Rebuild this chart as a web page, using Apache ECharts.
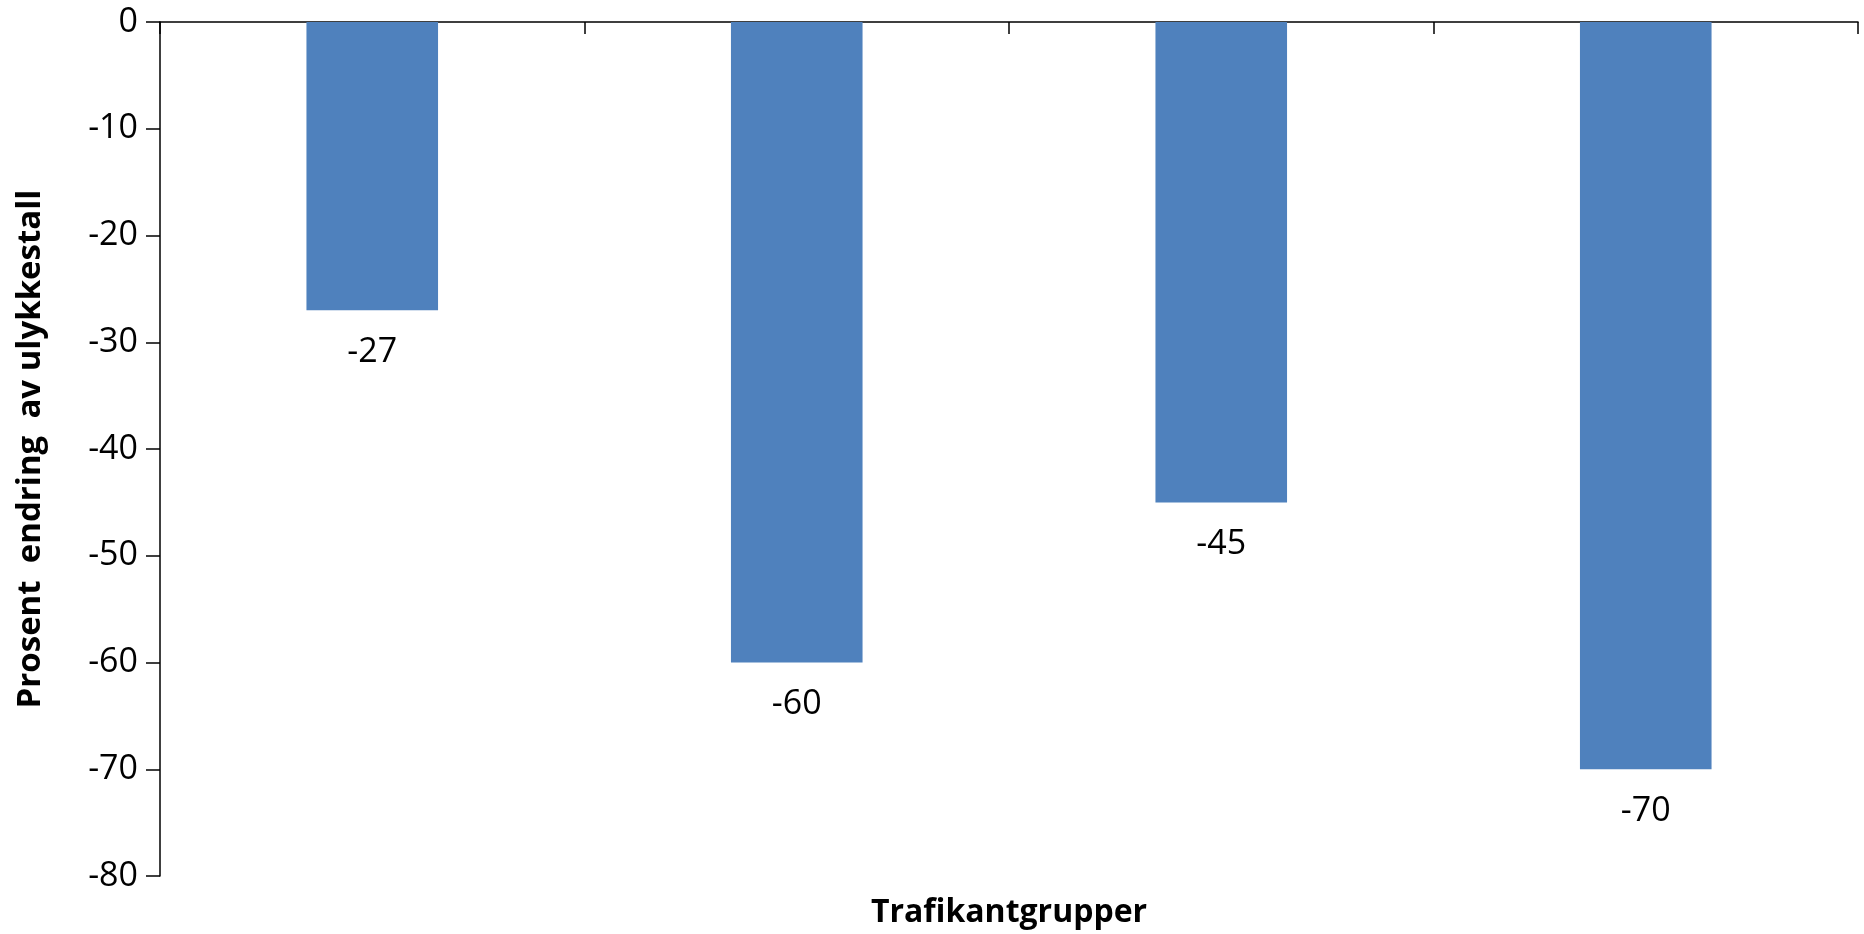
<!DOCTYPE html>
<html>
<head>
<meta charset="utf-8">
<script src="https://cdn.jsdelivr.net/npm/echarts@6/dist/echarts.min.js"></script>
<style>
  html, body { margin: 0; padding: 0; background: #ffffff; }
  #chart { width: 1864px; height: 934px; }
</style>
</head>
<body>
<div id="chart"></div>
<script>
// Road-user groups and the percentage change in accident numbers
const categories = ['Gruppe 1', 'Gruppe 2', 'Gruppe 3', 'Gruppe 4'];
const changeValues = [-27, -60, -45, -70];
const yTicks = { min: -80, max: 0, interval: 10 };

const yAxisTitle = 'Prosent  endring  av ulykkestall';
const xAxisTitle = 'Trafikantgrupper';

const FONT = 'Open Sans';
const chart = echarts.init(document.getElementById('chart'), null, { renderer: 'canvas' });

chart.setOption({
  backgroundColor: '#ffffff',
  animation: false,
  grid: { left: 160, right: 6, top: 22, bottom: 55, containLabel: false },
  xAxis: [
    {
      type: 'category',
      data: categories,
      position: 'bottom',
      axisLine: { onZero: true, lineStyle: { color: '#000000', width: 1.5 } },
      axisTick: { show: true, length: 12, lineStyle: { color: '#000000', width: 1.5 } },
      axisLabel: { show: false },
      splitLine: { show: false }
    },
    {
      // carries only the category-axis title under the plot
      type: 'category',
      data: categories,
      position: 'bottom',
      axisLine: { show: false, onZero: false },
      axisTick: { show: false },
      axisLabel: { show: false },
      splitLine: { show: false },
      name: xAxisTitle,
      nameLocation: 'middle',
      nameGap: 21,
      nameTextStyle: { fontFamily: FONT, fontSize: 32, fontWeight: 'bold', color: '#000000', verticalAlign: 'top' }
    }
  ],
  yAxis: {
    type: 'value',
    min: yTicks.min,
    max: yTicks.max,
    interval: yTicks.interval,
    axisLine: { show: true, lineStyle: { color: '#000000', width: 1.5 } },
    axisTick: { show: true, length: 14, lineStyle: { color: '#000000', width: 1.5 } },
    axisLabel: { fontFamily: FONT, fontSize: 34, color: '#000000', margin: 22 },
    splitLine: { show: false },
    name: yAxisTitle,
    nameLocation: 'middle',
    nameGap: 113,
    nameTextStyle: { fontFamily: FONT, fontSize: 33, fontWeight: 'bold', color: '#000000' }
  },
  series: [
    {
      type: 'bar',
      xAxisIndex: 0,
      data: changeValues,
      barWidth: '31%',
      itemStyle: { color: '#4F81BD' },
      label: {
        show: true,
        position: 'bottom',
        distance: 25,
        fontFamily: FONT,
        fontSize: 34,
        color: '#000000'
      }
    }
  ]
});
</script>
</body>
</html>
